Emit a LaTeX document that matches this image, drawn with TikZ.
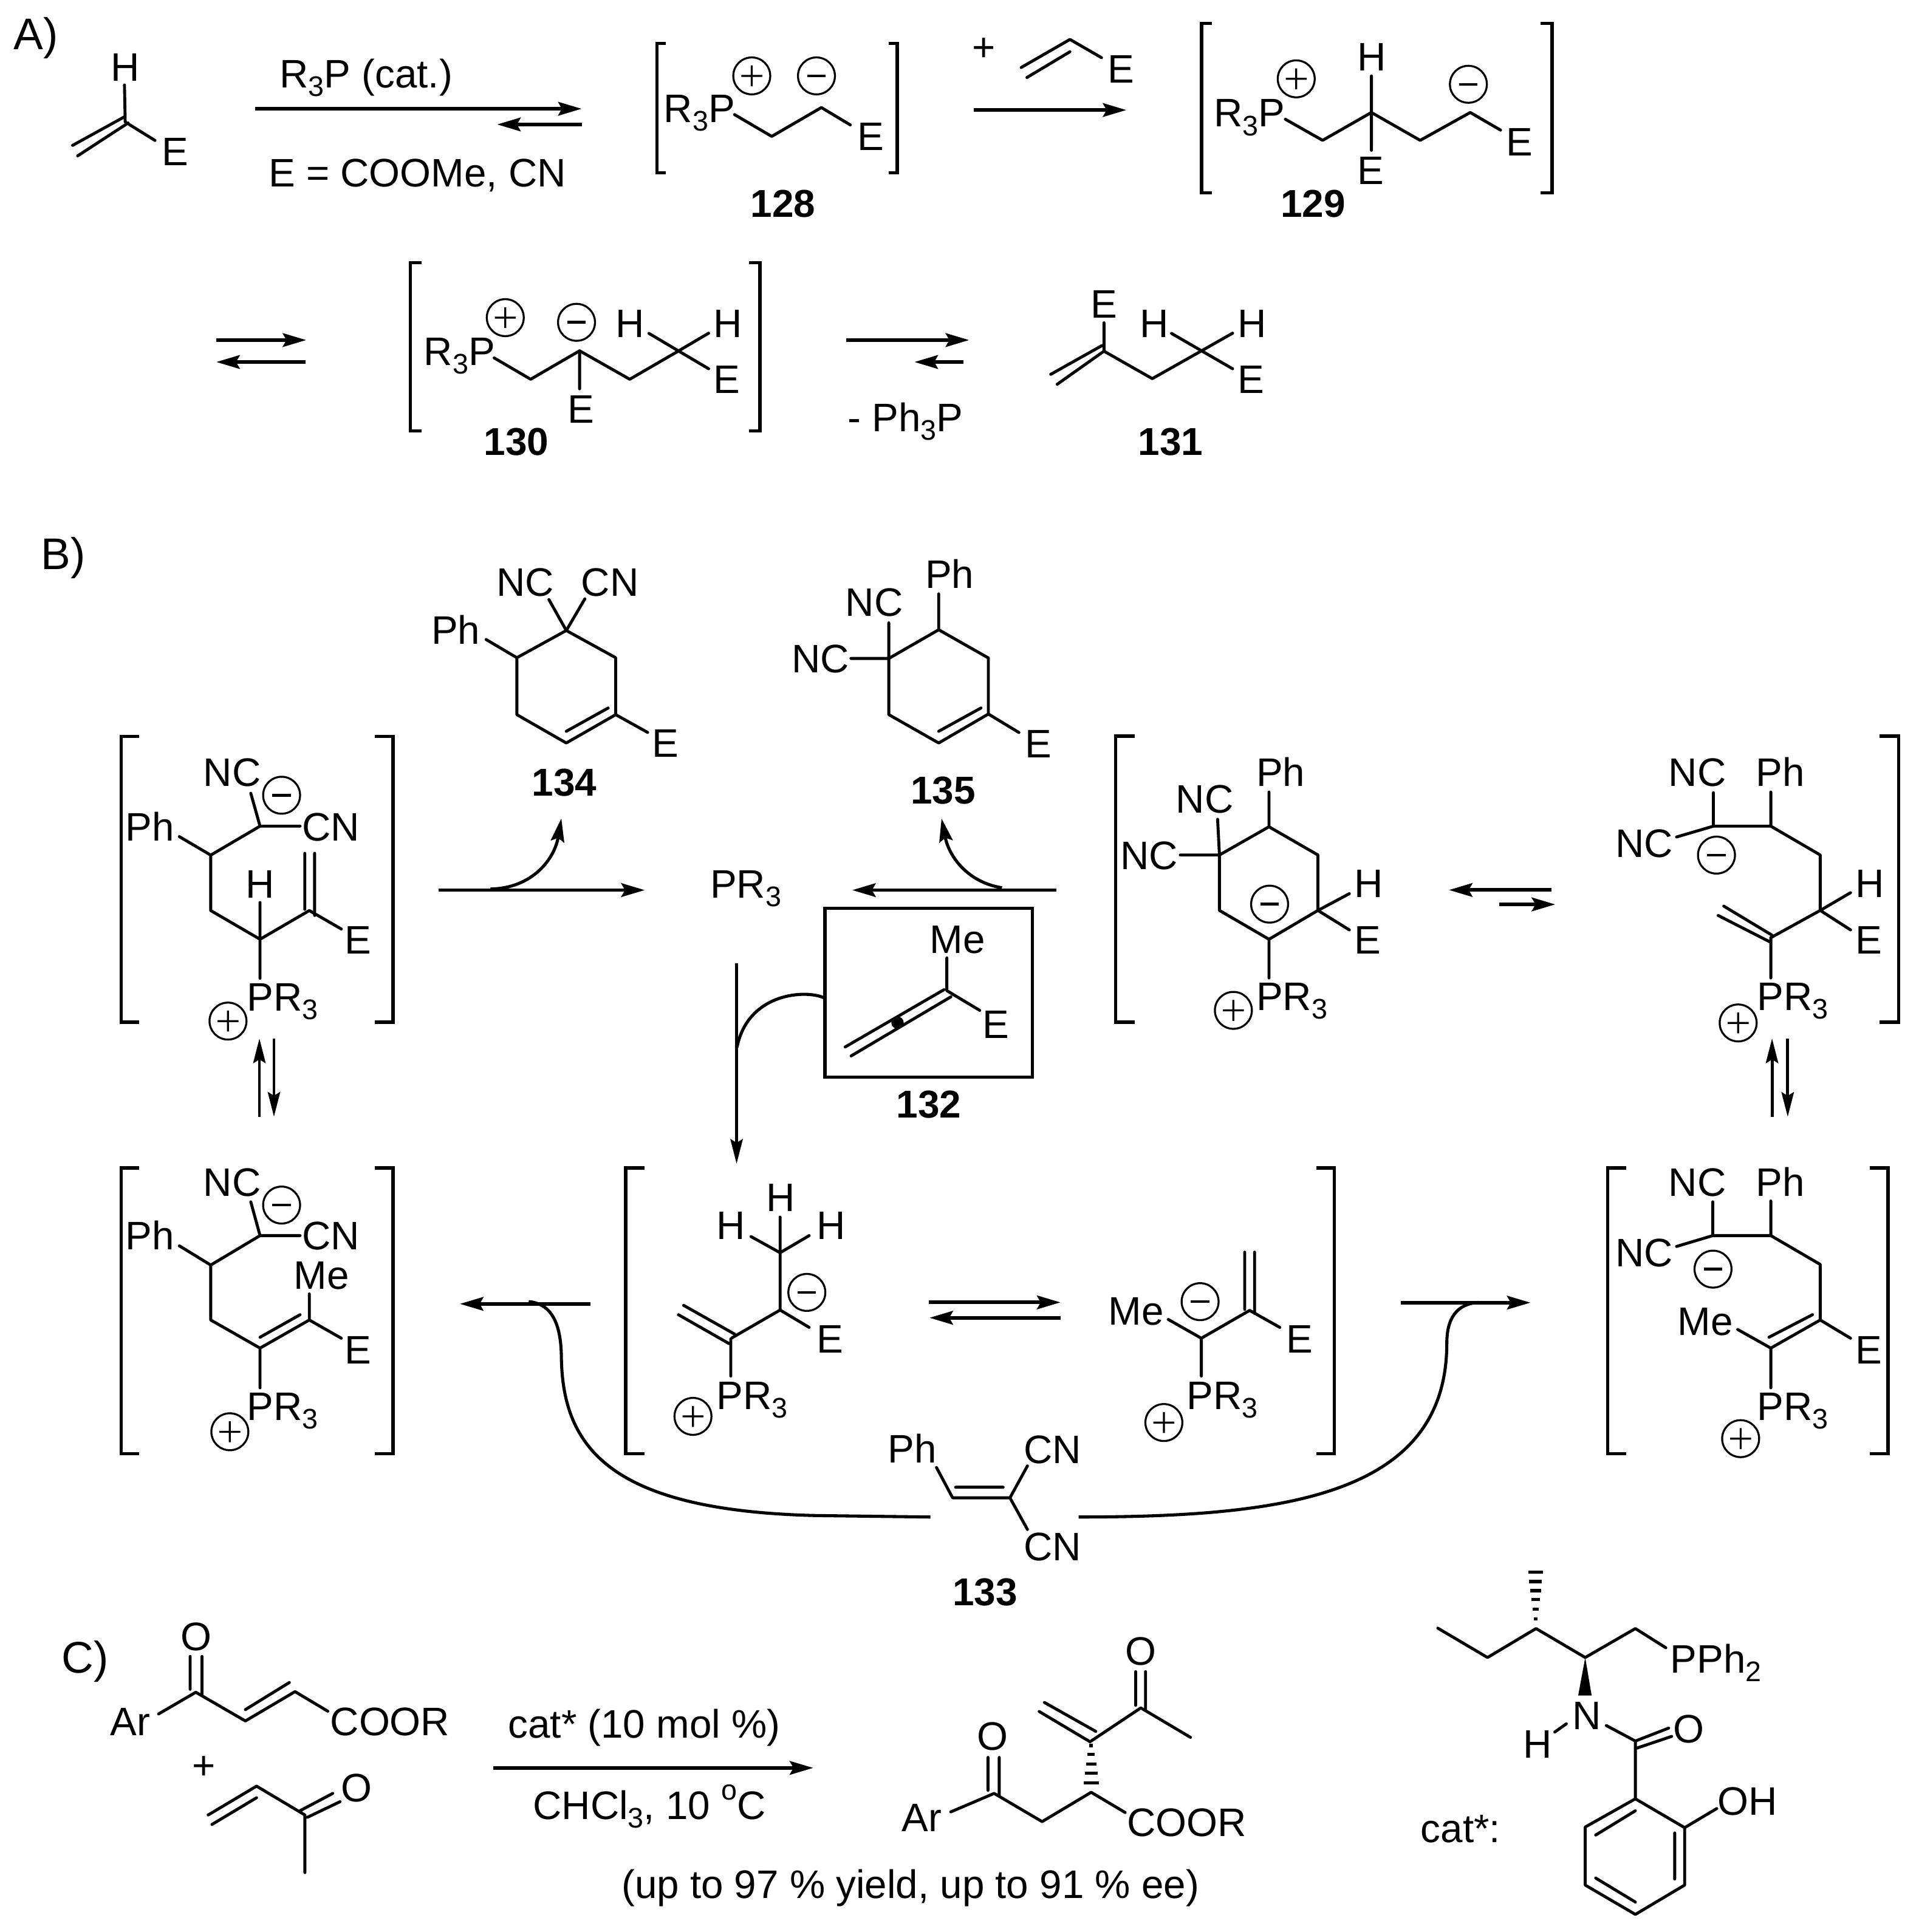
\documentclass[tikz,border=0pt]{standalone}
\usepackage{fontspec}
\setmainfont{Liberation Sans}
\usetikzlibrary{arrows.meta}
\newcommand\sbs[1]{\raisebox{-7pt}{\fontsize{23}{24}\selectfont #1}}
\newcommand\chgp[2]{\draw[chg] (#1,#2) circle[radius=15pt] (#1-8.5,#2) -- (#1+8.5,#2) (#1,#2-8.5) -- (#1,#2+8.5);}
\newcommand\chgm[2]{\draw[chg] (#1,#2) circle[radius=15pt]; \draw[line width=2.2pt] (#1-7.5,#2) -- (#1+7.5,#2);}
\newcommand\hsh[3]{\draw[line width=2.6pt] (#1-#3,#2) -- (#1+#3,#2);}
\tikzset{
  lab/.style={anchor=base west,inner sep=0pt,outer sep=0pt,xshift=-2pt,font=\fontsize{32.3}{36}\selectfont},
  num/.style={lab,xshift=1pt,font=\fontsize{31.5}{36}\selectfont\bfseries},
  sec/.style={lab,font=\fontsize{36}{40}\selectfont},
  bond/.style={line width=2.4pt,line cap=round,line join=round},
  brk/.style={line width=2.7pt,line join=miter},
  chg/.style={line width=1.6pt},
  arr/.style={line width=2.9pt,-{Stealth[length=19pt,width=11pt,inset=3pt]}},
  narr/.style={line width=2.4pt,-{Stealth[length=20pt,width=10pt,inset=3pt]}},
  curve/.style={line width=2.5pt}
}
\begin{document}
\begin{tikzpicture}[x=1pt,y=-1pt]
\useasboundingbox (0,0) rectangle (1557,1568);
\fill[white] (0,0) rectangle (1557,1568);
% ---------- A ----------
\node[sec] (lA) at (13,40) {A)};
\node[lab] (a1H) at (92,66) {H};
\node[lab] (a1E) at (133.3,134.5) {E};
\draw[bond] (101,69) -- (101.6,99) -- (125.8,114) (100.6,95) -- (58.9,118) (104,99.8) -- (63,126.5);
\node[lab] (cond1) at (229,71) {R\sbs{3}P (cat.)};
\node[lab] (cond2) at (220,151.7) {E = COOMe, CN};
\draw[arr] (207,88.3) -- (472,88.3);
\draw[arr] (472,101) -- (403.4,101);
% 128
\draw[brk] (540,35.2) -- (533,35.2) -- (533,140.3) -- (540,140.3);
\draw[brk] (721,35.2) -- (728,35.2) -- (728,140.3) -- (721,140.3);
\node[lab] (b1R) at (540.7,99.3) {R\sbs{3}P};
\node[lab] (b1E) at (698,122) {E};
\draw[bond] (596,93) -- (626.2,110.7) -- (666.5,87.3) -- (690,101.4);
\chgp{610}{61.6}
\chgm{662.5}{61.6}
\node[num] (n128) at (610,176) {128};
% plus alkene
\node[lab] (pl1) at (791,49.5) {+};
\draw[bond] (833.3,62.9) -- (868.2,42) (828.6,54.8) -- (868.2,32) -- (893.8,46.8);
\node[lab] (a2E) at (901,67.4) {E};
\draw[arr] (790,89.3) -- (914,89.3);
% 129
\draw[brk] (983.5,18.9) -- (975,18.9) -- (975,156.4) -- (983.5,156.4);
\draw[brk] (1250,18.9) -- (1259.3,18.9) -- (1259.3,156.4) -- (1250,156.4);
\node[lab] (c1R) at (987,103) {R\sbs{3}P};
\node[lab] (c1H) at (1103.4,57.3) {H};
\node[lab] (c1E) at (1103.4,149.6) {E};
\node[lab] (c1F) at (1224.4,126.3) {E};
\draw[bond] (1043,96.8) -- (1073.2,113.9) -- (1112.8,91.3) -- (1152.4,113.9) -- (1193,91.3) -- (1217.6,105.6) (1112.8,61.6) -- (1112.8,122);
\chgp{1051.8}{64}
\chgm{1191.5}{68.4}
\node[num] (n129) at (1040.3,176) {129};
% row 2
\draw[arr] (175.5,276) -- (248.5,276);
\draw[arr] (248,293.8) -- (175.5,293.8);
\draw[brk] (342,213.3) -- (333,213.3) -- (333,349.6) -- (342,349.6);
\draw[brk] (607.6,213.3) -- (616.7,213.3) -- (616.7,349.6) -- (607.6,349.6);
\node[lab] (d1R) at (346,296.3) {R\sbs{3}P};
\node[lab] (d1E) at (462.8,343.3) {E};
\node[lab] (d1H) at (501.5,274) {H};
\node[lab] (d2H) at (581,274) {H};
\node[lab] (d2E) at (581,319.4) {E};
\draw[bond] (401,290.5) -- (430.6,307.8) -- (470.3,284.7) -- (511,307.8) -- (550.8,284.7) (470.3,284.7) -- (470.3,315.6) (526.6,270.6) -- (575,299.3) (550.8,284.7) -- (575,270.4);
\chgp{410}{257.8}
\chgm{467.8}{261.6}
\node[num] (n130) at (393.8,369.2) {130};
\draw[arr] (686.6,276) -- (786.4,276);
\draw[arr] (782,293.8) -- (742,293.8);
\node[lab] (mph) at (690,350) {- Ph\sbs{3}P};
% 131
\node[lab] (e1E) at (887,257.8) {E};
\node[lab] (e1H) at (927,274) {H};
\node[lab] (e2H) at (1006.4,274) {H};
\node[lab] (e2E) at (1006.4,319.4) {E};
\draw[bond] (895.8,262) -- (895.8,285) -- (935,307.3) -- (975,284.7) (950.6,270.6) -- (1000.2,299.3) (975,284.7) -- (1000.2,270.4) (894.3,280.4) -- (852.6,303.8) (895.8,285) -- (857.8,311.9);
\node[num] (n131) at (924.5,369.2) {131};
% ---------- B ----------
\node[sec] (lB) at (35.5,462) {B)};
% 134
\node[lab] (f1) at (404.8,484) {NC};
\node[lab] (f2) at (473.6,484) {CN};
\node[lab] (f3) at (352,522.8) {Ph};
\node[lab] (f4) at (531,614.6) {E};
\draw[bond] (459.5,511.7) -- (499.6,533.8) -- (499.6,580) -- (459.5,603) -- (419.4,580) -- (419.4,533.8) -- cycle
  (459.5,511.7) -- (445.4,486.6) (459.5,511.7) -- (474.6,486) (419.4,533.8) -- (394.4,519) (499.6,580) -- (525.5,594.4) (459.5,593.5) -- (493.5,574.6);
\node[num] (n134) at (432.6,646) {134};
% 135
\node[lab] (g1) at (688,500) {NC};
\node[lab] (g2) at (752.8,477.2) {Ph};
\node[lab] (g3) at (644.3,545.7) {NC};
\node[lab] (g4) at (833.7,615) {E};
\draw[bond] (721.2,534.4) -- (761.7,511.1) -- (802,534) -- (802,579.5) -- (761.7,603) -- (721.2,580) -- cycle
  (721.2,534.4) -- (721.2,505.5) (721.2,534.4) -- (690.5,534.4) (761.7,511.1) -- (761.7,482) (802,579.5) -- (826.8,594.5) (761.7,593.5) -- (796,574.6);
\node[num] (n135) at (740,652.3) {135};
% upper left bracket
\draw[brk] (113,597.6) -- (98.3,597.6) -- (98.3,829.6) -- (113,829.6);
\draw[brk] (304,597.6) -- (319,597.6) -- (319,829.6) -- (304,829.6);
\node[lab] (h1) at (167,638) {NC};
\node[lab] (h2) at (104,682.5) {Ph};
\node[lab] (h3) at (247.3,682.5) {CN};
\node[lab] (h4) at (201.6,728.7) {H};
\node[lab] (h5) at (281.7,774.3) {E};
\node[lab] (h6) at (202.5,820.5) {PR\sbs{3}};
\draw[bond] (203.5,643.8) -- (211,670.5) -- (243.5,670.5) (211,670.5) -- (171,694) -- (145.5,679) (171,694) -- (171,739) -- (211,762.3) -- (251,739) -- (277,754) (211,732.5) -- (211,794) (247.3,692.5) -- (247.3,738) (255.3,692.5) -- (255.3,743);
\chgm{228.5}{645.4}
\chgp{185}{828.7}
\draw[narr] (210.5,906.3) -- (210.5,842.8);
\draw[narr] (222.3,842.8) -- (222.3,906.3);
% PR3 centre
\node[lab] (pr3) at (578.3,728.7) {PR\sbs{3}};
\draw[arr] (355.8,722.4) -- (523.2,722.4);
\draw[curve,arr,line width=2.5pt] (398,721.5) .. controls (432,721) and (450,697) .. (455.5,664.2);
\draw[arr] (857.2,722.4) -- (691.5,722.4);
\draw[curve,arr,line width=2.5pt] (813,720.5) .. controls (785,716) and (770,695) .. (764,664.2);
% box 132
\draw[brk] (669.3,737.2) rectangle (837.6,874.2);
\node[lab] (i1) at (756.5,773.6) {Me};
\node[lab] (i2) at (799.4,842.7) {E};
\draw[bond] (768.3,777.4) -- (768.3,804) -- (795,820) (685.8,849.7) -- (766,803.2) (690.6,857) -- (771.6,809);
\fill (728.3,830) circle[radius=5pt];
\node[num] (n132) at (728.3,907) {132};
\draw[curve] (669,810) .. controls (655,803) and (607,805) .. (598,850);
\draw[narr] (597.7,782) -- (597.7,944.5);
% upper right bracket (ring)
\draw[brk] (921,597.5) -- (905.2,597.5) -- (905.2,829.7) -- (921,829.7);
\node[lab] (j1) at (956.2,659.9) {NC};
\node[lab] (j2) at (1021.4,638.3) {Ph};
\node[lab] (j3) at (911,705.7) {NC};
\node[lab] (j4) at (1101.2,728.3) {H};
\node[lab] (j5) at (1101.2,774.3) {E};
\node[lab] (j6) at (1021.4,820) {PR\sbs{3}};
\draw[bond] (989.5,693.9) -- (1029.7,671) -- (1069.4,693.9) -- (1069.4,738.9) -- (1029.7,762.3) -- (989.5,738.9) -- cycle
  (989.5,693.9) -- (988,664.9) (989.5,693.9) -- (957.7,693.9) (1029.7,671) -- (1029.7,642.8) (1069.4,738.9) -- (1094.9,725.3) (1069.4,738.9) -- (1094.9,754.7) (1029.7,762.3) -- (1029.7,793.7);
\chgp{1000.8}{820}
\chgm{1030.2}{733.8}
\draw[arr] (1259,722.3) -- (1175.7,722.3);
\draw[arr] (1216.4,734) -- (1262,734);
% upper right acyclic
\draw[brk] (1525,597.5) -- (1540.7,597.5) -- (1540.7,829.7) -- (1525,829.7);
\node[lab] (k1) at (1356,638.3) {NC};
\node[lab] (k2) at (1427,638.3) {Ph};
\node[lab] (k3) at (1312.9,695.6) {NC};
\node[lab] (k4) at (1507.4,728.3) {H};
\node[lab] (k5) at (1507.4,774.3) {E};
\node[lab] (k6) at (1428,820) {PR\sbs{3}};
\draw[bond] (1390.3,643.3) -- (1390.3,670.5) -- (1436.9,670.5) -- (1477,693.9) -- (1477,738.9) -- (1436.9,761) (1436.9,670.5) -- (1436.9,642.8) (1390.3,670.5) -- (1360.4,679.3) (1477,738.9) -- (1501.6,724.5) (1477,738.9) -- (1501.6,754.7) (1398.7,735.4) -- (1437.9,759) (1394.2,743) -- (1436.9,764.8) (1436.9,761) -- (1436.9,793.7);
\chgp{1410.4}{830.2}
\chgm{1392.8}{694}
\draw[narr] (1437.9,906.4) -- (1437.9,842.8);
\draw[narr] (1450.6,842.8) -- (1450.6,906.4);
% lower left
\draw[brk] (113,947.8) -- (98.3,947.8) -- (98.3,1179.9) -- (113,1179.9);
\draw[brk] (304,947.8) -- (319,947.8) -- (319,1179.9) -- (304,1179.9);
\node[lab] (m1) at (167,970.9) {NC};
\node[lab] (m2) at (104,1014.4) {Ph};
\node[lab] (m3) at (247.3,1014.4) {CN};
\node[lab] (m4) at (240.3,1046.4) {Me};
\node[lab] (m5) at (281.7,1106.7) {E};
\node[lab] (m6) at (202.5,1152.7) {PR\sbs{3}};
\draw[bond] (203.5,975.4) -- (211,1002.8) -- (243.5,1002.8) (211,1002.8) -- (171,1026.7) -- (145.5,1011.1) (171,1026.7) -- (171,1071.3) -- (211,1094.1) -- (251,1071.3) -- (277,1086.1) (251,1071.3) -- (251,1050.1) (211,1085.3) -- (243.5,1067) (211,1094.1) -- (211,1126.3);
\chgm{228.5}{978}
\chgp{186.5}{1162}
\draw[arr] (479.3,1058.2) -- (373.2,1058.2);
\draw[curve] (429,1056.4) .. controls (448,1058) and (455,1075) .. (455.5,1100) .. controls (456,1175) and (495,1226) .. (662,1230) -- (755,1231.2);
% lower middle bracket
\draw[brk] (523,947.8) -- (507.6,947.8) -- (507.6,1179.9) -- (523,1179.9);
\draw[brk] (1068,947.8) -- (1082.6,947.8) -- (1082.6,1179.9) -- (1068,1179.9);
\node[lab] (o1) at (623.6,983) {H};
\node[lab] (o2) at (583.5,1006) {H};
\node[lab] (o3) at (664.6,1006) {H};
\node[lab] (o4) at (664.6,1097.9) {E};
\node[lab] (o5) at (583.5,1143.7) {PR\sbs{3}};
\draw[bond] (633,987.8) -- (633,1063.2) (609.4,1003.6) -- (633,1016.7) -- (656.6,1002.8) (633,1063.2) -- (656.6,1077.3) (633,1063.2) -- (593.9,1085.8) (554.7,1059.4) -- (596.2,1082.8) (550.5,1067) -- (591.5,1090.4) (593,1086.6) -- (593,1116.8);
\chgm{654.7}{1048.9}
\chgp{562.3}{1149.5}
\draw[arr] (753.5,1057) -- (860.5,1057);
\draw[arr] (860.6,1069.5) -- (754.2,1069.5);
\node[lab] (q1) at (901.3,1075.3) {Me};
\node[lab] (q2) at (1045.9,1097.9) {E};
\node[lab] (q3) at (965,1143.7) {PR\sbs{3}};
\draw[bond] (947.9,1070.8) -- (974.8,1086.1) -- (1014,1063.5) -- (1038.5,1077.3) (974.8,1086.1) -- (974.8,1116.8) (1010,1016.2) -- (1010,1062.7) (1018,1016.2) -- (1018,1066);
\chgm{973.8}{1056.4}
\chgp{944.4}{1154.5}
% 133
\node[lab] (r1) at (722.6,1187.2) {Ph};
\node[lab] (r2) at (832.7,1187.7) {CN};
\node[lab] (r3) at (832.7,1266.4) {CN};
\draw[bond] (759.9,1191) -- (773,1215.6) -- (819.5,1215.6) (775.4,1207) -- (814,1207) (833.7,1189.7) -- (819.5,1215.6) -- (833.7,1241.3);
\node[num] (n133) at (774,1303) {133};
\draw[curve] (875.3,1231.2) .. controls (1040,1231) and (1174,1215) .. (1174,1090) .. controls (1174,1070) and (1182,1058) .. (1200,1057);
\draw[arr] (1136.5,1057.2) -- (1241.9,1057.2);
% lower right
\draw[brk] (1319.3,947.8) -- (1304.6,947.8) -- (1304.6,1179.9) -- (1319.3,1179.9);
\draw[brk] (1517,947.8) -- (1532,947.8) -- (1532,1179.9) -- (1517,1179.9);
\node[lab] (s1) at (1356,970.9) {NC};
\node[lab] (s2) at (1427,970.9) {Ph};
\node[lab] (s3) at (1312.9,1028) {NC};
\node[lab] (s4) at (1507.4,1106.7) {E};
\node[lab] (s5) at (1363.4,1083.6) {Me};
\node[lab] (s6) at (1428,1152.7) {PR\sbs{3}};
\draw[bond] (1389.8,975.4) -- (1389.8,1002.8) -- (1436.9,1002.8) -- (1477,1026.2) -- (1477,1071.3) -- (1436.9,1094.1) -- (1410,1079) (1436.9,1002.8) -- (1436.9,974.7) (1389.8,1002.8) -- (1360.4,1011.6) (1477,1071.3) -- (1501.6,1086.1) (1435.4,1085.3) -- (1470.7,1067) (1436.9,1094.1) -- (1436.9,1126.3);
\chgm{1390}{1030}
\chgp{1412.4}{1167.6}
% ---------- C ----------
\node[sec] (lC) at (52,1357.6) {C)};
\node[lab] (t1) at (148.8,1339.4) {O};
\node[lab] (t2) at (91.5,1408.7) {Ar};
\node[lab] (t3) at (270,1408.7) {COOR};
\draw[bond] (154.3,1344.3) -- (154.3,1371) (163.9,1344.3) -- (163.9,1375) (128.7,1391) -- (158.9,1373.4) -- (199.1,1396.7) -- (239.4,1372.9) -- (266,1388.8) (199.1,1387.5) -- (234.8,1365.5);
\node[lab] (pl2) at (158,1444) {+};
\draw[bond] (168.9,1473) -- (208.2,1449.6) -- (247.4,1473) -- (247.4,1519.8) (172,1480.7) -- (208.2,1459) (243.4,1469.6) -- (270,1455.5) (249.4,1474.9) -- (276,1462.2);
\node[lab] (t4) at (278.6,1462.2) {O};
\draw[arr] (400.3,1434.8) -- (659.9,1434.8);
\node[lab] (t5) at (414.4,1410.5) {cat* (10 mol \%)};
\node[lab] (t6) at (434.5,1476.3) {CHCl\sbs{3}, 10 \raisebox{15.5pt}{\fontsize{23}{24}\selectfont o}C};
\node[lab] (t7) at (506.4,1540.7) {(up to 97 \% yield, up to 91 \% ee)};
% product
\node[lab] (u1) at (795,1420.2) {O};
\node[lab] (u2) at (733.8,1486.3) {Ar};
\node[lab] (u3) at (916.7,1490.4) {COOR};
\node[lab] (u4) at (915.3,1351.4) {O};
\draw[bond] (801.7,1426.3) -- (801.7,1453) (810.8,1426.3) -- (810.8,1457) (771.5,1470.5) -- (806.7,1455.5) -- (845.6,1478.4) -- (885.4,1454.6) -- (913,1471)
  (847.5,1381.7) -- (889.2,1405.2) (843.2,1389) -- (884.5,1413.6) (885.4,1413) -- (925.7,1386.1) -- (966,1410) (921.5,1356.7) -- (921.5,1384) (929.5,1356.7) -- (929.5,1388);
\hsh{885.4}{1447}{6.2}
\hsh{885.4}{1439.2}{5.2}
\hsh{885.4}{1431.6}{4.2}
\hsh{885.4}{1423.7}{3}
\hsh{885.4}{1416.6}{1.5}
% catalyst
\node[lab] (v1) at (1357.4,1357.6) {PPh\sbs{2}};
\node[lab] (v2) at (1278,1403.4) {N};
\node[lab] (v3) at (1237.9,1426.9) {H};
\node[lab] (v4) at (1359.8,1414.5) {O};
\node[lab] (v5) at (1395.9,1473.1) {OH};
\node[lab] (v6) at (1154.9,1495.1) {cat*:};
\draw[bond] (1166.7,1321.4) -- (1207,1345.2) -- (1246.4,1321.7) -- (1286.3,1345.2) -- (1327,1321.7) -- (1351.7,1337.3)
  (1271,1399) -- (1261.6,1405.7) (1303.4,1400.4) -- (1327,1413) (1327,1413) -- (1354,1402.5) (1328,1418.8) -- (1356.5,1409.2) (1327,1413) -- (1327,1459.9)
  (1327,1459.9) -- (1367,1483.3) -- (1367,1529.9) -- (1327,1553.7) -- (1286.3,1529.9) -- (1286.3,1482.8) -- cycle
  (1327,1469.6) -- (1294.8,1489.3) (1358.9,1487.6) -- (1358.9,1525) (1294.8,1524.2) -- (1327,1543.7) (1367,1483.3) -- (1393,1467.8);
\fill (1286.3,1345.2) -- (1291.5,1376) -- (1280.6,1376) -- cycle;
\hsh{1246}{1314}{1.5}
\hsh{1246}{1306}{2.5}
\hsh{1246}{1298}{3.5}
\hsh{1246}{1291}{4.5}
\hsh{1246}{1283.5}{5.2}
\hsh{1246}{1276}{6}
\end{tikzpicture}
\end{document}
